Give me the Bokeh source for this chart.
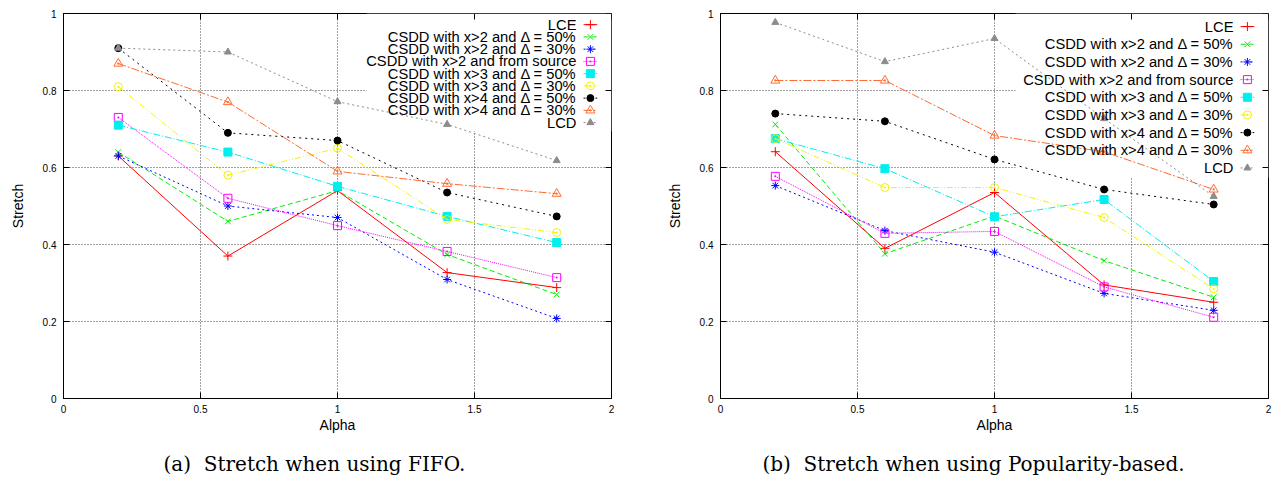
import math
from bokeh.plotting import figure
from bokeh.layouts import row
from bokeh.models import Range1d, FixedTicker, Label, BoxAnnotation, Title
from bokeh.embed import file_html
from bokeh.resources import INLINE

# ---------------- data ----------------
alpha = [0.2, 0.6, 1.0, 1.4, 1.8]

series_labels = [
    "LCE",
    "CSDD with x>2 and \u0394 = 50%",
    "CSDD with x>2 and \u0394 = 30%",
    "CSDD with x>2 and from source",
    "CSDD with x>3 and \u0394 = 50%",
    "CSDD with x>3 and \u0394 = 30%",
    "CSDD with x>4 and \u0394 = 50%",
    "CSDD with x>4 and \u0394 = 30%",
    "LCD",
]

# (a) FIFO
fifo_lce    = [0.630, 0.370, 0.540, 0.327, 0.288]
fifo_x2_50  = [0.640, 0.460, 0.540, 0.374, 0.270]
fifo_x2_30  = [0.630, 0.500, 0.470, 0.309, 0.208]
fifo_x2_src = [0.730, 0.520, 0.449, 0.382, 0.314]
fifo_x3_50  = [0.710, 0.640, 0.551, 0.473, 0.405]
fifo_x3_30  = [0.810, 0.580, 0.650, 0.465, 0.431]
fifo_x4_50  = [0.910, 0.690, 0.670, 0.535, 0.473]
fifo_x4_30  = [0.870, 0.770, 0.590, 0.558, 0.532]
fifo_lcd    = [0.910, 0.900, 0.771, 0.712, 0.618]

# (b) Popularity-based
pop_lce    = [0.641, 0.390, 0.535, 0.295, 0.250]
pop_x2_50  = [0.712, 0.376, 0.474, 0.358, 0.263]
pop_x2_30  = [0.553, 0.436, 0.380, 0.273, 0.229]
pop_x2_src = [0.577, 0.429, 0.434, 0.290, 0.211]
pop_x3_50  = [0.675, 0.597, 0.472, 0.517, 0.304]
pop_x3_30  = [0.675, 0.548, 0.548, 0.470, 0.285]
pop_x4_50  = [0.740, 0.720, 0.621, 0.543, 0.504]
pop_x4_30  = [0.826, 0.826, 0.683, 0.641, 0.543]
pop_lcd    = [0.977, 0.875, 0.935, 0.727, 0.525]

x_ticks = [0, 0.5, 1, 1.5, 2]
x_tick_labels = ["0", "0.5", "1", "1.5", "2"]
y_ticks = [0, 0.2, 0.4, 0.6, 0.8, 1]
y_tick_labels = ["0", "0.2", "0.4", "0.6", "0.8", "1"]

# ---------------- styles ----------------
colors = ["#ff0000", "#00ee00", "#0000ff", "#ff00ff", "#00eeee",
          "#f2f200", "#000000", "#ff6a30", "#8c8c8c"]
dashes = ["solid", "5 3", "2 3", "1 1", "7 2 1 2", "6 2 1 2 1 2",
          "2 4", "8 2 2 2", "2 3"]
markers = ["cross", "x", "asterisk", "square_dot", "square", "circle_dot",
           "circle", "triangle_dot", "triangle"]
filled = [False, False, False, False, True, False, True, False, True]
msizes = [9, 8, 8, 8, 8, 8, 7, 9, 7]

FRAME_W, FRAME_H = 548, 385
TOP, BOTTOM = 13, 92
SANS = "Liberation Sans"
TICK_LEN = 6


def make_plot(series, border_left, border_right, caption, cap_offset,
              key_top, key_step, box_left, box_bottom):
    p = figure(width=border_left + FRAME_W + border_right,
               height=TOP + FRAME_H + BOTTOM,
               x_range=Range1d(0, 2), y_range=Range1d(0, 1),
               output_backend="svg", toolbar_location=None,
               min_border_left=border_left, min_border_right=border_right,
               min_border_top=TOP, min_border_bottom=BOTTOM,
               outline_line_color="black", outline_line_width=1)

    # axes
    xt = dict(zip(x_ticks, x_tick_labels))
    yt = dict(zip(y_ticks, y_tick_labels))
    for ax, tk, ov in ((p.xaxis[0], x_ticks, xt), (p.yaxis[0], y_ticks, yt)):
        ax.ticker = FixedTicker(ticks=tk)
        ax.major_label_overrides = ov
        ax.major_tick_in = TICK_LEN
        ax.major_tick_out = 0
        ax.minor_tick_line_color = None
        ax.axis_line_color = "black"
        ax.major_tick_line_color = "black"
        ax.major_label_text_font = SANS
        ax.major_label_text_font_size = "10px"
        ax.major_label_text_color = "black"
        ax.axis_label_text_font = SANS
        ax.axis_label_text_font_size = "14px"
        ax.axis_label_text_font_style = "normal"
        ax.axis_label_text_color = "black"
    p.xaxis.axis_label = "Alpha"
    p.yaxis.axis_label = "Stretch"
    p.xaxis.major_label_standoff = 6
    p.xaxis.axis_label_standoff = 1
    p.yaxis.major_label_standoff = 7
    p.yaxis.axis_label_standoff = 14

    # mirrored inward ticks on top and right edges
    p.ray(x=x_ticks, y=[1] * len(x_ticks), length=TICK_LEN,
          length_units="screen", angle=-math.pi / 2, line_color="black")
    p.ray(x=[2] * len(y_ticks), y=y_ticks, length=TICK_LEN,
          length_units="screen", angle=math.pi, line_color="black")

    # grid
    p.xgrid.ticker = FixedTicker(ticks=x_ticks[1:-1])
    p.ygrid.ticker = FixedTicker(ticks=y_ticks[1:-1])
    for g in (p.xgrid, p.ygrid):
        g.grid_line_color = "#444444"
        g.grid_line_dash = "1 2"
        g.grid_line_width = 1

    # key background hides the grid
    p.add_layout(BoxAnnotation(left=box_left, right=2, bottom=box_bottom, top=1,
                               fill_color="white", fill_alpha=1.0,
                               line_color=None, level="underlay"))

    # data
    for i, ys in enumerate(series):
        c = colors[i]
        p.line(alpha, ys, line_color=c, line_width=1, line_dash=dashes[i])
        p.scatter(alpha, ys, marker=markers[i], size=msizes[i], line_color=c,
                  fill_color=c if filled[i] else None, line_width=1)

    # key (text right-aligned, sample on the right)
    for i, name in enumerate(series_labels):
        yk = key_top - i * key_step
        p.add_layout(Label(x=1.872, y=yk, text=name, text_align="right",
                           text_baseline="middle", text_font=SANS,
                           text_font_size="14.7px", text_color="black"))
        c = colors[i]
        p.line([1.898, 1.948], [yk, yk], line_color=c, line_width=1,
               line_dash=dashes[i])
        p.scatter([1.923], [yk], marker=markers[i], size=msizes[i],
                  line_color=c, fill_color=c if filled[i] else None)

    # caption
    p.add_layout(Title(text=caption, align="left", offset=cap_offset,
                       vertical_align="bottom",
                       text_font="DejaVu Serif", text_font_size="20px",
                       text_font_style="normal", text_color="black",
                       standoff=28), "below")
    return p


p1 = make_plot([fifo_lce, fifo_x2_50, fifo_x2_30, fifo_x2_src, fifo_x3_50,
                fifo_x3_30, fifo_x4_50, fifo_x4_30, fifo_lcd],
               63, 37, "(a)\u00a0\u00a0Stretch when using FIFO.", 100,
               0.971, 0.0318, 1.106, 0.694)
p2 = make_plot([pop_lce, pop_x2_50, pop_x2_30, pop_x2_src, pop_x3_50,
                pop_x3_30, pop_x4_50, pop_x4_30, pop_lcd],
               72, 4, "(b)\u00a0\u00a0Stretch when using Popularity-based.", 42,
               0.966, 0.0459, 1.077, 0.574)

layout = row(p1, p2)
open("out.html", "w").write(file_html(layout, INLINE))
